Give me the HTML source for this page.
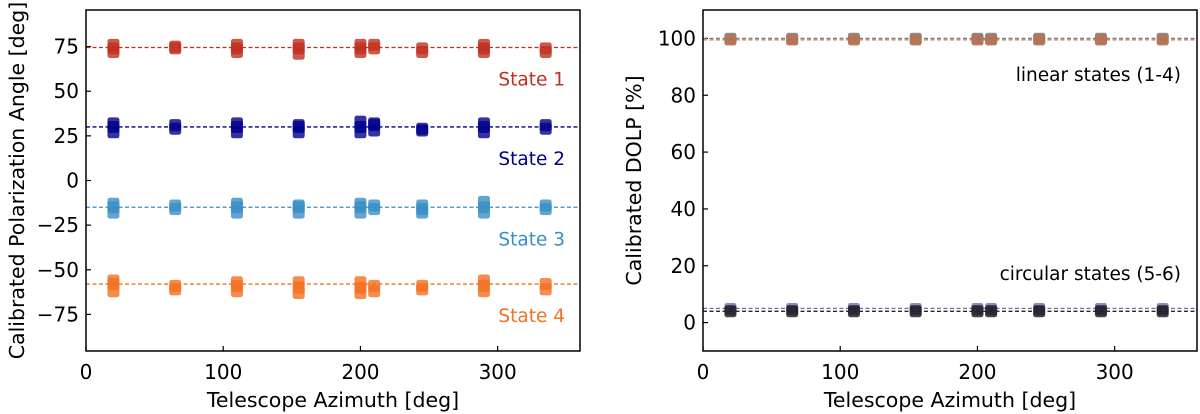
<!DOCTYPE html>
<html><head><meta charset="utf-8"><style>
body{margin:0;background:#fff;}
svg{display:block;font-family:"DejaVu Sans","Liberation Sans",sans-serif;}
</style></head><body>
<svg id="chart" width="1200" height="414" viewBox="0 0 1200 414" xmlns="http://www.w3.org/2000/svg"></svg>
<script>
const azimuths=[20,65,110,155,200,210,245,290,335];
const state1=[[72,74,76],[74,75],[72,74,76],[71,74,76],[72,74,76],[74,76],[72,74],[72,74,76],[72,74]];
const state2=[[27,30,32],[29,31],[27,30,32],[27,30,31],[27,30,33],[28,31,32],[28,29],[27,30,32],[29,31]];
const state3=[[-18,-15,-13],[-16,-14],[-18,-15,-13],[-18,-15,-14],[-18,-15,-13],[-16,-14],[-18,-16,-14],[-18,-15,-12],[-16,-14]];
const state4=[[-62,-58,-56],[-61,-59],[-62,-59,-57],[-63,-60,-57],[-63,-60,-57],[-62,-59],[-61,-59],[-62,-59,-56],[-61,-58]];
const refAngles=[74.5,30,-15,-58];
const stateLabels=['State 1','State 2','State 3','State 4'];
const linearDolp=[99.6,99.6,99.6,99.6,99.6,99.6,99.6,99.6,99.6];
const circularDolp=[4,4,4,4,4,4,4,4,4];
const circularDolp2=[4.8,4.8,4.8,4.8,4.8,4.8,4.8,4.8,4.8];
const refDolp=[100,99.5,5,4];
const xTicks=[0,100,200,300];
const yTicksL=[75,50,25,0,-25,-50,-75];
const yTicksR=[0,20,40,60,80,100];
const colors=['#c03020','#00008b','#3a8fc4','#f47022'];
const NS='http://www.w3.org/2000/svg';
const svg=document.getElementById('chart');
function mk(tag,attrs,parent){const e=document.createElementNS(NS,tag);for(const k in attrs)e.setAttribute(k,attrs[k]);(parent||svg).appendChild(e);return e;}
function axes(L,R,T,B,xmin,xmax,ymin,ymax,yTicks,ylab,pfx){
  const g=mk('g',{});
  
  
  const sx=v=>L+(v-xmin)/(xmax-xmin)*(R-L);
  const sy=v=>B-(v-ymin)/(ymax-ymin)*(B-T);
  xTicks.forEach(t=>{mk('line',{x1:sx(t),x2:sx(t),y1:B,y2:B-5,stroke:'#000','stroke-width':1.2},g);
    const tx=mk('text',{x:sx(t),y:B+28,'text-anchor':'middle','font-size':20},g);tx.textContent=t;
    
    });
  yTicks.forEach(t=>{mk('line',{x1:L,x2:L+5,y1:sy(t),y2:sy(t),stroke:'#000','stroke-width':1.2},g);
    const tx=mk('text',{x:L-7,y:sy(t)+7,'text-anchor':'end','font-size':20},g);tx.textContent=t<0?'\u2212'+(-t):t;
    
    });
  const xl=mk('text',{x:(L+R)/2,y:B+56,'text-anchor':'middle','font-size':20.5},g);xl.textContent='Telescope Azimuth [deg]';
  
  
  const yl=mk('text',{x:0,y:0,'text-anchor':'middle','font-size':20.5,transform:`translate(${L-62},${(T+B)/2}) rotate(-90)`},g);yl.textContent=ylab;
  
  
  return {sx,sy,close:()=>mk('rect',{x:L,y:T,width:R-L,height:B-T,fill:'none',stroke:'#000','stroke-width':1.5})};
}
function hline(a,L,R,v,c){const l=mk('line',{x1:L,x2:R,y1:a.sy(v),y2:a.sy(v),stroke:c,'stroke-width':1.3,'stroke-dasharray':'4,2.5'});
  
  }
function marker(a,x,y,c){const r=mk('rect',{x:a.sx(x)-6,y:a.sy(y)-6,width:12,height:12,rx:2.5,fill:c,'fill-opacity':0.8});
  
  }
// left
const LL=86,LR=580,T=10,B=351;
const a=axes(LL,LR,T,B,0,360,-95.5,95.5,yTicksL,'Calibrated Polarization Angle [deg]','left');
[state1,state2,state3,state4].forEach((s,i)=>{
  hline(a,LL,LR,refAngles[i],colors[i]);
  s.forEach((vals,j)=>vals.forEach(v=>marker(a,azimuths[j],v,colors[i])));
  const t=mk('text',{x:565,y:a.sy(refAngles[i])+38,'text-anchor':'end','font-size':18.5,fill:colors[i]});t.textContent=stateLabels[i];
  
  
});
a.close();
// right
const RL=703,RR=1197;
const b=axes(RL,RR,T,B,0,360,-10,110,yTicksR,'Calibrated DOLP [%]','right');
hline(b,RL,RR,refDolp[0],'#3a8fc4');hline(b,RL,RR,refDolp[1],'#f47022');
hline(b,RL,RR,refDolp[2],'#7b68b0');hline(b,RL,RR,refDolp[3],'#111');
azimuths.forEach((x,j)=>{marker(b,x,linearDolp[j]+0.3,'#3a8fc4');marker(b,x,linearDolp[j],'#c86a3c');
  marker(b,x,circularDolp2[j],'#7b68b0');marker(b,x,circularDolp[j],'#111');});
const t1=mk('text',{x:1181,y:81,'text-anchor':'end','font-size':18.5});t1.textContent='linear states (1-4)';


const t2=mk('text',{x:1181,y:280,'text-anchor':'end','font-size':18.5});t2.textContent='circular states (5-6)';


b.close();
</script>
</body></html>
